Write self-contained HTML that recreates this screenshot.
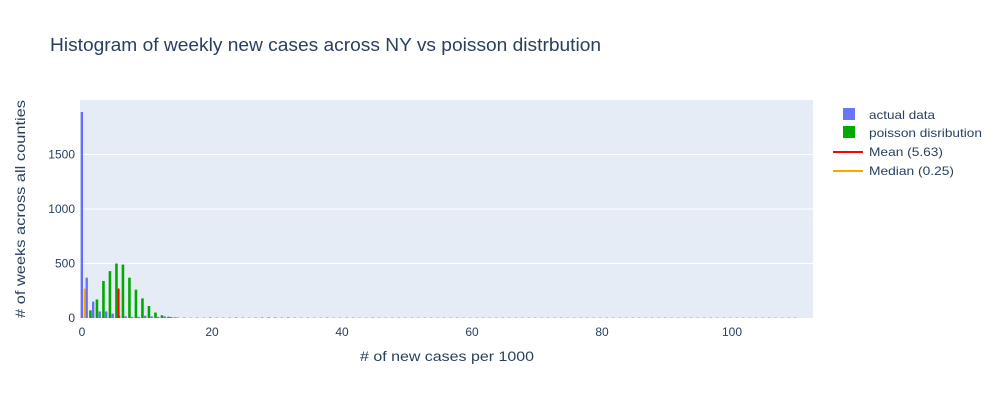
<!DOCTYPE html>
<html><head><meta charset="utf-8"><style>
body{margin:0;background:#fff;font-family:"Liberation Sans",sans-serif;}
svg text{font-family:"Liberation Sans",sans-serif;fill:#2a3f5f;}
</style></head><body>
<svg id="chart" width="1000" height="400" xmlns="http://www.w3.org/2000/svg">
<rect width="1000" height="400" fill="#fff"/>
<text x="50" y="51" font-size="18" textLength="551" lengthAdjust="spacingAndGlyphs">Histogram of weekly new cases across NY vs poisson distrbution</text>
<rect x="80" y="100" width="733" height="218" fill="#e5ecf6"/>
<g id="grid"></g><g id="bars"></g><g id="axes"></g>
<text x="447" y="361" font-size="14" text-anchor="middle" textLength="174" lengthAdjust="spacingAndGlyphs"># of new cases per 1000</text>
<text transform="translate(25,209) rotate(-90)" font-size="14" text-anchor="middle" textLength="218" lengthAdjust="spacingAndGlyphs"># of weeks across all counties</text>
<g>
<rect x="843" y="108" width="12" height="12" fill="#636efa" opacity="0.95"/>
<text x="869" y="119" font-size="12" textLength="66" lengthAdjust="spacingAndGlyphs">actual data</text>
<rect x="843" y="126" width="12" height="12" fill="#00aa00"/>
<text x="869" y="137" font-size="12" textLength="113" lengthAdjust="spacingAndGlyphs">poisson disribution</text>
<line x1="833" x2="863" y1="152" y2="152" stroke="#ff0000" stroke-width="2"/>
<text x="869" y="156" font-size="12" textLength="74" lengthAdjust="spacingAndGlyphs">Mean (5.63)</text>
<line x1="833" x2="863" y1="171" y2="171" stroke="#ffa500" stroke-width="2"/>
<text x="869" y="175" font-size="12" textLength="85" lengthAdjust="spacingAndGlyphs">Median (0.25)</text>
</g>
</svg>
<script>
const actualHead = [1890,370,150,60,60,40,20,15,10,10,20,15,10,15,10];
const actualTail = [5,4,3,4,3,5,4,3,4,5,4,3,4,5,6,5,4,5,4,3,4,3,3,4,3,3,4,3,3,3,4,3,3,3,3,3,3,3,3,3,3,3,3,3,3,3,3,3,3,3,3,3,3,3,3,3,3,3,3,3,3,3,3,3,3,3,3,3,3,3,3,3,3,3,3,3,3,3,3,3,3,3,3,3,3,3,3,3,3,3,3,3,3,3,3,3];
const poisson = [20,70,170,340,430,500,490,370,260,180,110,50,25,12,5];
const meanVal = 5.63, medianVal = 0.25, lineHeight = 270;
const yTicks = [0,500,1000,1500];
const xTicks = [0,20,40,60,80,100];
const ns="http://www.w3.org/2000/svg";
const X0=82, XS=6.5, Y0=318, YS=0.109;
const xs=v=>X0+v*XS, ys=v=>Y0-v*YS;
function mk(t,a,p){const e=document.createElementNS(ns,t);for(const k in a)e.setAttribute(k,a[k]);p.appendChild(e);return e;}
const grid=document.getElementById('grid'),bars=document.getElementById('bars'),axes=document.getElementById('axes');
yTicks.forEach(t=>{
 if(t>0){const l=mk('line',{x1:80,x2:813,y1:ys(t),y2:ys(t),stroke:'#fff','stroke-width':1},grid);
 
 }
 const tx=mk('text',{x:75,y:ys(t)+4,'font-size':12,'text-anchor':'end'},axes);tx.textContent=t;
 
 
});
xTicks.forEach(t=>{
 const tx=mk('text',{x:xs(t),y:336,'font-size':12,'text-anchor':'middle'},axes);tx.textContent=t;
 
 
});
const actual=actualHead.concat(actualTail);
actual.forEach((v,i)=>{
 const r=mk('rect',{x:xs(i)-1.3,y:ys(v),width:2.3,height:v*YS,fill:'#636efa'},bars);
 if(i>0)r.setAttribute('x',xs(i-0.1)-2.3);
 
 
});
poisson.forEach((v,i)=>{
 if(i===0)return;
 const r=mk('rect',{x:xs(i+0.1),y:ys(v),width:2.6,height:v*YS,fill:'#00aa00'},bars);
 
 
});
const m=mk('line',{x1:xs(meanVal),x2:xs(meanVal),y1:ys(0),y2:ys(lineHeight),stroke:'#ff0000','stroke-width':2},bars);


const md=mk('line',{x1:xs(medianVal)+1,x2:xs(medianVal)+1,y1:ys(0),y2:ys(lineHeight),stroke:'#ffa500','stroke-width':2},bars);


</script>
</body></html>
